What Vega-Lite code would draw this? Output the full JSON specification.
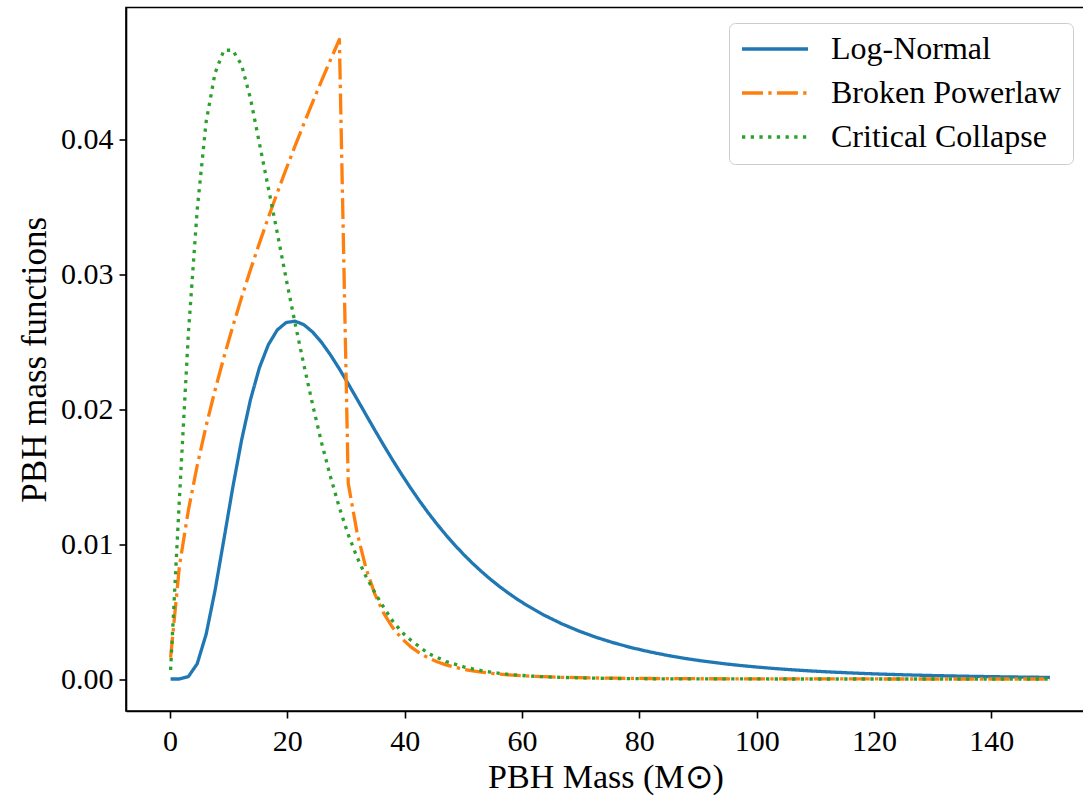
{
  "$schema": "https://vega.github.io/schema/vega-lite/v6.json",
  "width": 959,
  "height": 703.5,
  "autosize": {"type": "none"},
  "padding": {"left": 126, "top": 7.5, "right": -2, "bottom": 87},
  "background": "white",
  "config": {
    "view": {"stroke": "black", "strokeWidth": 1.6},
    "axis": {
      "grid": false,
      "domainColor": "black",
      "domainWidth": 1.6,
      "tickColor": "black",
      "tickWidth": 1.6,
      "tickSize": 7,
      "labelPadding": 6,
      "labelFont": "Liberation Serif",
      "labelFontSize": 30,
      "labelColor": "black",
      "titleFont": "Liberation Serif",
      "titleFontSize": 34,
      "titleFontWeight": "normal",
      "titleColor": "black"
    },
    "legend": {
      "orient": "none",
      "legendX": 603,
      "legendY": 15.5,
      "direction": "vertical",
      "symbolType": "stroke",
      "symbolSize": 4356,
      "symbolStrokeWidth": 3.3,
      "clipHeight": 30,
      "labelFont": "Liberation Serif",
      "labelFontSize": 32,
      "labelColor": "black",
      "labelLimit": 500,
      "labelOffset": 21,
      "padding": 11,
      "rowPadding": 12,
      "fillColor": "rgba(255,255,255,0.8)",
      "strokeColor": "#cccccc",
      "cornerRadius": 6,
      "title": null
    }
  },
  "data": {
    "values": [
      {"m":0.10,"v":0,"s":"Log-Normal"},
      {"m":1.61,"v":0.000003,"s":"Log-Normal"},
      {"m":3.13,"v":0.000176,"s":"Log-Normal"},
      {"m":4.64,"v":0.001134,"s":"Log-Normal"},
      {"m":6.16,"v":0.003319,"s":"Log-Normal"},
      {"m":7.67,"v":0.006546,"s":"Log-Normal"},
      {"m":9.18,"v":0.010331,"s":"Log-Normal"},
      {"m":10.70,"v":0.014197,"s":"Log-Normal"},
      {"m":12.21,"v":0.017724,"s":"Log-Normal"},
      {"m":13.73,"v":0.020729,"s":"Log-Normal"},
      {"m":15.24,"v":0.023072,"s":"Log-Normal"},
      {"m":16.76,"v":0.024774,"s":"Log-Normal"},
      {"m":18.27,"v":0.025863,"s":"Log-Normal"},
      {"m":19.78,"v":0.026419,"s":"Log-Normal"},
      {"m":21.30,"v":0.026524,"s":"Log-Normal"},
      {"m":22.81,"v":0.026263,"s":"Log-Normal"},
      {"m":24.33,"v":0.025712,"s":"Log-Normal"},
      {"m":25.84,"v":0.024947,"s":"Log-Normal"},
      {"m":27.35,"v":0.024024,"s":"Log-Normal"},
      {"m":28.87,"v":0.022984,"s":"Log-Normal"},
      {"m":30.38,"v":0.021881,"s":"Log-Normal"},
      {"m":31.90,"v":0.020734,"s":"Log-Normal"},
      {"m":33.41,"v":0.019583,"s":"Log-Normal"},
      {"m":34.92,"v":0.018441,"s":"Log-Normal"},
      {"m":36.44,"v":0.017312,"s":"Log-Normal"},
      {"m":37.95,"v":0.016226,"s":"Log-Normal"},
      {"m":39.47,"v":0.015174,"s":"Log-Normal"},
      {"m":40.98,"v":0.014175,"s":"Log-Normal"},
      {"m":42.50,"v":0.013219,"s":"Log-Normal"},
      {"m":44.01,"v":0.012320,"s":"Log-Normal"},
      {"m":45.52,"v":0.011473,"s":"Log-Normal"},
      {"m":47.04,"v":0.010672,"s":"Log-Normal"},
      {"m":48.55,"v":0.009926,"s":"Log-Normal"},
      {"m":50.07,"v":0.009224,"s":"Log-Normal"},
      {"m":51.58,"v":0.008573,"s":"Log-Normal"},
      {"m":53.09,"v":0.007966,"s":"Log-Normal"},
      {"m":54.61,"v":0.007397,"s":"Log-Normal"},
      {"m":56.12,"v":0.006872,"s":"Log-Normal"},
      {"m":57.64,"v":0.006380,"s":"Log-Normal"},
      {"m":59.15,"v":0.005927,"s":"Log-Normal"},
      {"m":60.67,"v":0.005503,"s":"Log-Normal"},
      {"m":63.69,"v":0.004752,"s":"Log-Normal"},
      {"m":66.72,"v":0.004103,"s":"Log-Normal"},
      {"m":69.75,"v":0.003547,"s":"Log-Normal"},
      {"m":72.78,"v":0.003069,"s":"Log-Normal"},
      {"m":75.81,"v":0.002659,"s":"Log-Normal"},
      {"m":78.84,"v":0.002306,"s":"Log-Normal"},
      {"m":81.86,"v":0.002004,"s":"Log-Normal"},
      {"m":84.89,"v":0.001743,"s":"Log-Normal"},
      {"m":87.92,"v":0.001518,"s":"Log-Normal"},
      {"m":90.95,"v":0.001324,"s":"Log-Normal"},
      {"m":93.98,"v":0.001157,"s":"Log-Normal"},
      {"m":97.01,"v":0.001012,"s":"Log-Normal"},
      {"m":100.03,"v":0.000887,"s":"Log-Normal"},
      {"m":103.06,"v":0.000778,"s":"Log-Normal"},
      {"m":106.09,"v":0.000683,"s":"Log-Normal"},
      {"m":109.12,"v":0.000601,"s":"Log-Normal"},
      {"m":112.15,"v":0.000530,"s":"Log-Normal"},
      {"m":115.18,"v":0.000467,"s":"Log-Normal"},
      {"m":118.20,"v":0.000413,"s":"Log-Normal"},
      {"m":121.23,"v":0.000365,"s":"Log-Normal"},
      {"m":124.26,"v":0.000324,"s":"Log-Normal"},
      {"m":127.29,"v":0.000287,"s":"Log-Normal"},
      {"m":130.32,"v":0.000255,"s":"Log-Normal"},
      {"m":133.35,"v":0.000227,"s":"Log-Normal"},
      {"m":136.37,"v":0.000202,"s":"Log-Normal"},
      {"m":139.40,"v":0.000180,"s":"Log-Normal"},
      {"m":142.43,"v":0.000161,"s":"Log-Normal"},
      {"m":145.46,"v":0.000143,"s":"Log-Normal"},
      {"m":148.49,"v":0.000128,"s":"Log-Normal"},
      {"m":150.00,"v":0.000121,"s":"Log-Normal"},

      {"m":0.10,"v":0.001584,"s":"Broken Powerlaw"},
      {"m":1.61,"v":0.008386,"s":"Broken Powerlaw"},
      {"m":3.13,"v":0.012497,"s":"Broken Powerlaw"},
      {"m":4.64,"v":0.015827,"s":"Broken Powerlaw"},
      {"m":6.16,"v":0.018762,"s":"Broken Powerlaw"},
      {"m":7.67,"v":0.021399,"s":"Broken Powerlaw"},
      {"m":9.18,"v":0.023834,"s":"Broken Powerlaw"},
      {"m":10.70,"v":0.026130,"s":"Broken Powerlaw"},
      {"m":12.21,"v":0.028286,"s":"Broken Powerlaw"},
      {"m":13.73,"v":0.030347,"s":"Broken Powerlaw"},
      {"m":15.24,"v":0.032308,"s":"Broken Powerlaw"},
      {"m":16.76,"v":0.034205,"s":"Broken Powerlaw"},
      {"m":18.27,"v":0.036023,"s":"Broken Powerlaw"},
      {"m":19.78,"v":0.037779,"s":"Broken Powerlaw"},
      {"m":21.30,"v":0.039493,"s":"Broken Powerlaw"},
      {"m":22.81,"v":0.041150,"s":"Broken Powerlaw"},
      {"m":24.33,"v":0.042774,"s":"Broken Powerlaw"},
      {"m":25.84,"v":0.044349,"s":"Broken Powerlaw"},
      {"m":27.35,"v":0.045884,"s":"Broken Powerlaw"},
      {"m":28.87,"v":0.047400,"s":"Broken Powerlaw"},
      {"m":30.38,"v":0.014500,"s":"Broken Powerlaw"},
      {"m":31.90,"v":0.010819,"s":"Broken Powerlaw"},
      {"m":33.41,"v":0.008200,"s":"Broken Powerlaw"},
      {"m":34.92,"v":0.006290,"s":"Broken Powerlaw"},
      {"m":36.44,"v":0.004871,"s":"Broken Powerlaw"},
      {"m":37.95,"v":0.003816,"s":"Broken Powerlaw"},
      {"m":39.47,"v":0.003016,"s":"Broken Powerlaw"},
      {"m":40.98,"v":0.002407,"s":"Broken Powerlaw"},
      {"m":42.50,"v":0.001935,"s":"Broken Powerlaw"},
      {"m":44.01,"v":0.001569,"s":"Broken Powerlaw"},
      {"m":45.52,"v":0.001282,"s":"Broken Powerlaw"},
      {"m":47.04,"v":0.001052,"s":"Broken Powerlaw"},
      {"m":48.55,"v":0.000871,"s":"Broken Powerlaw"},
      {"m":50.07,"v":0.000724,"s":"Broken Powerlaw"},
      {"m":51.58,"v":0.000606,"s":"Broken Powerlaw"},
      {"m":53.09,"v":0.000509,"s":"Broken Powerlaw"},
      {"m":54.61,"v":0.000430,"s":"Broken Powerlaw"},
      {"m":56.12,"v":0.000365,"s":"Broken Powerlaw"},
      {"m":57.64,"v":0.000311,"s":"Broken Powerlaw"},
      {"m":59.15,"v":0.000266,"s":"Broken Powerlaw"},
      {"m":60.67,"v":0.000229,"s":"Broken Powerlaw"},
      {"m":63.69,"v":0.000171,"s":"Broken Powerlaw"},
      {"m":66.72,"v":0.000129,"s":"Broken Powerlaw"},
      {"m":69.75,"v":0.000099,"s":"Broken Powerlaw"},
      {"m":72.78,"v":0.000077,"s":"Broken Powerlaw"},
      {"m":75.81,"v":0.000060,"s":"Broken Powerlaw"},
      {"m":78.84,"v":0.000047,"s":"Broken Powerlaw"},
      {"m":81.86,"v":0.000038,"s":"Broken Powerlaw"},
      {"m":84.89,"v":0.000030,"s":"Broken Powerlaw"},
      {"m":87.92,"v":0.000025,"s":"Broken Powerlaw"},
      {"m":90.95,"v":0.000020,"s":"Broken Powerlaw"},
      {"m":100.03,"v":0.000011,"s":"Broken Powerlaw"},
      {"m":109.12,"v":0.000007,"s":"Broken Powerlaw"},
      {"m":118.20,"v":0.000004,"s":"Broken Powerlaw"},
      {"m":127.29,"v":0.0000026,"s":"Broken Powerlaw"},
      {"m":136.37,"v":0.0000018,"s":"Broken Powerlaw"},
      {"m":145.46,"v":0.0000012,"s":"Broken Powerlaw"},
      {"m":150.00,"v":0.000001,"s":"Broken Powerlaw"},

      {"m":0.10,"v":0.00067,"s":"Critical Collapse"},
      {"m":1.61,"v":0.0134,"s":"Critical Collapse"},
      {"m":3.13,"v":0.0256,"s":"Critical Collapse"},
      {"m":4.64,"v":0.0348,"s":"Critical Collapse"},
      {"m":6.16,"v":0.0413,"s":"Critical Collapse"},
      {"m":7.67,"v":0.0449,"s":"Critical Collapse"},
      {"m":9.18,"v":0.0466,"s":"Critical Collapse"},
      {"m":10.70,"v":0.0466,"s":"Critical Collapse"},
      {"m":12.21,"v":0.0455,"s":"Critical Collapse"},
      {"m":13.73,"v":0.0430,"s":"Critical Collapse"},
      {"m":15.24,"v":0.0397,"s":"Critical Collapse"},
      {"m":16.76,"v":0.0364,"s":"Critical Collapse"},
      {"m":18.27,"v":0.0331,"s":"Critical Collapse"},
      {"m":19.78,"v":0.0297,"s":"Critical Collapse"},
      {"m":21.30,"v":0.0264,"s":"Critical Collapse"},
      {"m":22.81,"v":0.0233,"s":"Critical Collapse"},
      {"m":24.33,"v":0.0203,"s":"Critical Collapse"},
      {"m":25.84,"v":0.0175,"s":"Critical Collapse"},
      {"m":27.35,"v":0.0150,"s":"Critical Collapse"},
      {"m":28.87,"v":0.0127,"s":"Critical Collapse"},
      {"m":30.38,"v":0.0107,"s":"Critical Collapse"},
      {"m":31.90,"v":0.0090,"s":"Critical Collapse"},
      {"m":33.41,"v":0.0076,"s":"Critical Collapse"},
      {"m":34.92,"v":0.0064,"s":"Critical Collapse"},
      {"m":36.44,"v":0.0053,"s":"Critical Collapse"},
      {"m":37.95,"v":0.0043,"s":"Critical Collapse"},
      {"m":39.47,"v":0.0035,"s":"Critical Collapse"},
      {"m":40.98,"v":0.0029,"s":"Critical Collapse"},
      {"m":42.50,"v":0.0024,"s":"Critical Collapse"},
      {"m":44.01,"v":0.0019,"s":"Critical Collapse"},
      {"m":45.52,"v":0.0016,"s":"Critical Collapse"},
      {"m":47.04,"v":0.0013,"s":"Critical Collapse"},
      {"m":48.55,"v":0.0011,"s":"Critical Collapse"},
      {"m":50.07,"v":0.0009,"s":"Critical Collapse"},
      {"m":51.58,"v":0.00075,"s":"Critical Collapse"},
      {"m":53.09,"v":0.00062,"s":"Critical Collapse"},
      {"m":54.61,"v":0.00051,"s":"Critical Collapse"},
      {"m":56.12,"v":0.00042,"s":"Critical Collapse"},
      {"m":57.64,"v":0.00035,"s":"Critical Collapse"},
      {"m":59.15,"v":0.00029,"s":"Critical Collapse"},
      {"m":60.67,"v":0.00024,"s":"Critical Collapse"},
      {"m":63.69,"v":0.00017,"s":"Critical Collapse"},
      {"m":66.72,"v":0.00012,"s":"Critical Collapse"},
      {"m":69.75,"v":0.00009,"s":"Critical Collapse"},
      {"m":72.78,"v":0.00006,"s":"Critical Collapse"},
      {"m":75.81,"v":0.00004,"s":"Critical Collapse"},
      {"m":78.84,"v":0.00003,"s":"Critical Collapse"},
      {"m":81.86,"v":0.00002,"s":"Critical Collapse"},
      {"m":84.89,"v":0.000015,"s":"Critical Collapse"},
      {"m":87.92,"v":0.00001,"s":"Critical Collapse"},
      {"m":90.95,"v":0.000007,"s":"Critical Collapse"},
      {"m":100.03,"v":0.000004,"s":"Critical Collapse"},
      {"m":109.12,"v":0.000002,"s":"Critical Collapse"},
      {"m":118.20,"v":0.000001,"s":"Critical Collapse"},
      {"m":127.29,"v":0.0000005,"s":"Critical Collapse"},
      {"m":136.37,"v":0.0000003,"s":"Critical Collapse"},
      {"m":145.46,"v":0.0000002,"s":"Critical Collapse"},
      {"m":150.00,"v":0.0000001,"s":"Critical Collapse"}
    ]
  },
  "mark": {"type": "line", "strokeWidth": 3.3, "strokeJoin": "round"},
  "encoding": {
    "x": {
      "field": "m",
      "type": "quantitative",
      "scale": {"domain": [-7.5, 155.96], "nice": false, "zero": false},
      "axis": {"values": [0, 20, 40, 60, 80, 100, 120, 140], "title": "PBH Mass (M⊙)", "titlePadding": 4, "labelPadding": 8}
    },
    "y": {
      "field": "v",
      "type": "quantitative",
      "scale": {"domain": [-0.00237, 0.04977], "nice": false, "zero": false},
      "axis": {"values": [0, 0.01, 0.02, 0.03, 0.04], "format": ".2f", "title": "PBH mass functions", "titlePadding": 8, "titleFontSize": 35}
    },
    "color": {
      "field": "s",
      "type": "nominal",
      "sort": null,
      "scale": {"domain": ["Log-Normal", "Broken Powerlaw", "Critical Collapse"], "range": ["#1f77b4", "#ff7f0e", "#2ca02c"]}
    },
    "strokeDash": {
      "field": "s",
      "type": "nominal",
      "sort": null,
      "scale": {"domain": ["Log-Normal", "Broken Powerlaw", "Critical Collapse"], "range": [[1, 0], [21, 5.3, 3.3, 5.3], [3.3, 5.4]]}
    }
  }
}
